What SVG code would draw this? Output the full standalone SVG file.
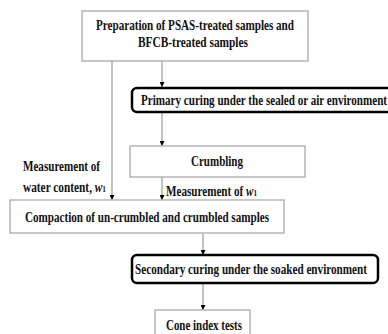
<svg xmlns="http://www.w3.org/2000/svg" width="388" height="334" viewBox="0 0 388 334">
<style>
.box{fill:#fff;stroke:#aaa;stroke-width:1.3}
.rbox{fill:#fff;stroke:#000;stroke-width:2.5}
.t{font-family:"Liberation Serif","Times New Roman",serif;font-weight:bold;font-size:14px;fill:#111}
.c{fill:none;stroke:#888;stroke-width:1}
</style>
<defs>
<marker id="ah" viewBox="0 0 10 10" refX="10" refY="5" markerWidth="5" markerHeight="5" orient="auto" markerUnits="userSpaceOnUse">
<path d="M0,0 L10,5 L0,10 z" fill="#000"/>
</marker>
</defs>
<rect width="388" height="334" fill="#fff"/>
<g id="connectors">
<line class="c" x1="162" y1="61" x2="162" y2="87" marker-end="url(#ah)"/>
<line class="c" x1="112" y1="61" x2="112" y2="200" marker-end="url(#ah)"/>
<line class="c" x1="162" y1="113" x2="162" y2="146" marker-end="url(#ah)"/>
<line class="c" x1="162" y1="177" x2="162" y2="200" marker-end="url(#ah)"/>
<line class="c" x1="203" y1="234" x2="203" y2="255" marker-end="url(#ah)"/>
<line class="c" x1="203" y1="284" x2="203" y2="310" marker-end="url(#ah)"/>
<text class="t" x="23" y="171" textLength="77" lengthAdjust="spacingAndGlyphs">Measurement of</text>
<text class="t" x="23" y="192" textLength="83" lengthAdjust="spacingAndGlyphs">water content, <tspan font-style="italic">w</tspan><tspan font-size="9">1</tspan></text>
<text class="t" x="166" y="196" textLength="91" lengthAdjust="spacingAndGlyphs">Measurement of <tspan font-style="italic">w</tspan><tspan font-size="9">1</tspan></text>
</g>
<g id="prep">
<rect class="box" x="82" y="11" width="226" height="50"/>
<text class="t" x="195" y="30" text-anchor="middle" textLength="198" lengthAdjust="spacingAndGlyphs">Preparation of PSAS-treated samples and</text>
<text class="t" x="193" y="47" text-anchor="middle" textLength="110" lengthAdjust="spacingAndGlyphs">BFCB-treated samples</text>
</g>
<g id="primary">
<rect class="rbox" x="132" y="88" width="270" height="24" rx="5"/>
<text class="t" x="141" y="105" textLength="246" lengthAdjust="spacingAndGlyphs">Primary curing under the sealed or air environment</text>
</g>
<g id="crumbling">
<rect class="box" x="130" y="146" width="175" height="31"/>
<text class="t" x="217" y="166" text-anchor="middle" textLength="52" lengthAdjust="spacingAndGlyphs">Crumbling</text>
</g>
<g id="compaction">
<rect class="box" x="10" y="200" width="274" height="33"/>
<text class="t" x="25" y="222" textLength="244" lengthAdjust="spacingAndGlyphs">Compaction of un-crumbled and crumbled samples</text>
</g>
<g id="secondary">
<rect class="rbox" x="132" y="255" width="246" height="28" rx="5"/>
<text class="t" x="135" y="274" textLength="232" lengthAdjust="spacingAndGlyphs">Secondary curing under the soaked environment</text>
</g>
<g id="cone">
<rect class="box" x="155" y="310" width="95" height="30"/>
<text class="t" x="166" y="330" textLength="76" lengthAdjust="spacingAndGlyphs">Cone index tests</text>
</g>
</svg>
